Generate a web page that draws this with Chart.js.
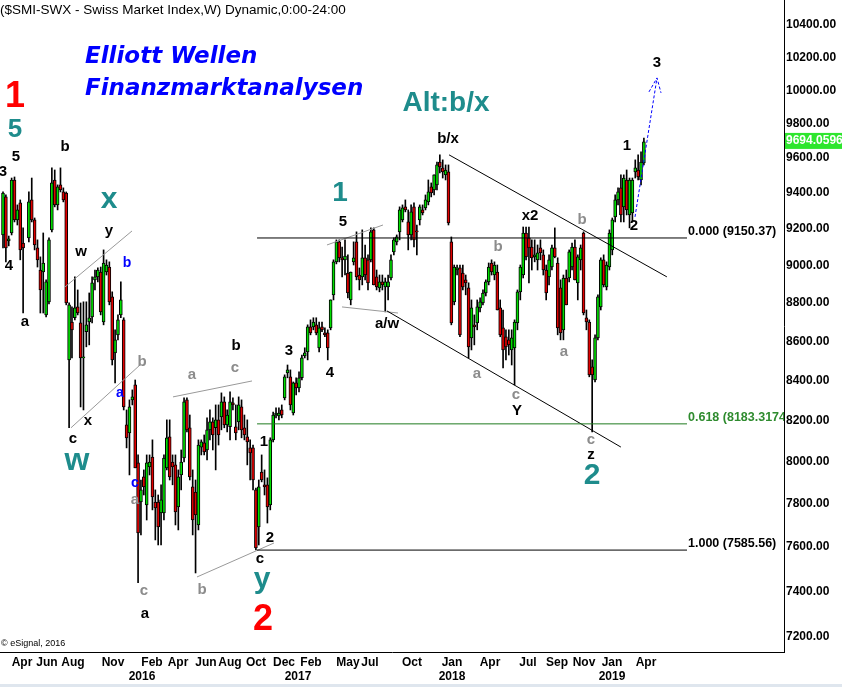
<!DOCTYPE html>
<html lang="de">
<head>
<meta charset="UTF-8">
<title>SMI - Elliott Wellen</title>
<script src="https://cdn.jsdelivr.net/npm/chart.js"></script>
<style>
  html, body { margin: 0; padding: 0; background: #ffffff; }
  #wrap { width: 842px; height: 687px; position: relative; }
</style>
</head>
<body>
<div id="wrap"><canvas id="smiChart" width="842" height="687"></canvas></div>
<script>
// weekly candles, index 0 = first week shown (null = no bar visible)
const opens = [
  9167, 9379, 9134, 9178, 9475, 9250, 9345, 9123, null, 9151,
  9362, 9250, 9096, 8976, 8965, 8737, 8806, 9195, 9475, 9334,
  9447, 9407, 9401, 8504, 8700, 8722, 8779, 8695, 8514, 8649,
  8700, 8727, 8923, 8939, 8965, 8700, 8965, 8992, 8832, 8540,
  8633, 8737, 8711, 8178, 8139, 8302, 8377, 7994, 7808, 7927,
  7794, 7974, 8022, 7808, 7808, 7757, 7757, 7970, 8120, 7998,
  7984, 7785, 7936, 8017, 8302, 8164, 7879, 7855, 7701, 8070,
  8090, 8056, 8154, 8193, 8164, 8203, 8218, 8292, 8178, 8169,
  8287, 8169, 8193, 8267, 8164, 8120, 8066, 8066, 7865, 7692,
  7950, 7889, 7889, 7794, 8105, 8227, 8223, 8252, 8312, 8438,
  8418, 8237, 8387, 8362, 8413, 8524, 8545, 8674, 8674, 8685,
  8566, 8674, 8643, 8643, 8669, 8843, 9020, 9129, 9042, 9031,
  8960, 8816, 9020, 9129, 8949, 8939, 9042, 9031, 9031, 9195,
  8939, 8880, 8912, 8885, 8885, 8933, 9074, 9129, 9184, 9250,
  9323, 9239, 9167, 9323, 9189, 9250, 9306, 9317, 9351, 9436,
  9419, 9447, 9578, 9544, 9504, 9521, 9129, 8806, 8976, 8987,
  8960, 8923, 8880, 8617, 8685, 8695, 8774, 8800, 8853, 8912,
  9014, 8949, 8965, 8774, 8669, 8623, 8607, 8555, 8566, 8695,
  8859, 8949, 9178, 9151, 9101, 9047, 9031, 9096, 9058, 8976,
  8939, 8992, 9096, 9014, 8880, 8659, 8933, 8933, 8992, 9101,
  8907, 9031, 9178, 8722, 8700, 8468, 8402, 8617, 8779, 9031,
  8885, 8992, 9085, 9267, 9362, 9430, 9323, 9475, 9278, 9289,
  9521, 9532, 9475, 9572
];
const highs = [
  9407, 9390, 9161, 9486, 9492, 9334, 9362, 9206, null, 9407,
  9486, 9261, 9140, 9047, 9178, 8923, 9151, 9544, 9532, 9447,
  9544, 9430, 9407, 8800, 8779, 8939, 8869, 8800, 8806, 8806,
  8853, 8939, 8976, 8987, 8992, 9085, 9031, 9020, 8859, 8659,
  8737, 8912, 8722, 8252, 8302, 8352, 8402, 8032, 7912, 7960,
  8032, 8032, 8105, 7865, 7841, 7889, 8032, 8203, 8203, 8032,
  8032, 7960, 8056, 8312, 8312, 8227, 7960, 7912, 8105, 8105,
  8129, 8213, 8252, 8213, 8277, 8277, 8337, 8317, 8252, 8342,
  8312, 8277, 8317, 8302, 8227, 8203, 8105, 8080, 7874, 7912,
  8032, 7960, 7922, 8115, 8242, 8262, 8262, 8277, 8428, 8478,
  8453, 8392, 8413, 8443, 8529, 8566, 8685, 8711, 8722, 8722,
  8700, 8700, 8669, 8659, 8816, 9031, 9140, 9140, 9101, 9140,
  9058, 8965, 9129, 9184, 8987, 9195, 9112, 9058, 9206, 9206,
  8976, 8949, 8949, 8933, 8949, 9058, 9151, 9167, 9323, 9334,
  9362, 9306, 9334, 9345, 9222, 9334, 9334, 9390, 9475, 9458,
  9504, 9578, 9619, 9590, 9561, 9561, 9156, 9003, 9003, 9003,
  9003, 8949, 8907, 8816, 8737, 8816, 8827, 8869, 8923, 9014,
  9031, 9020, 9003, 8816, 8763, 8659, 8659, 8659, 8711, 8869,
  9003, 9211, 9211, 9211, 9140, 9140, 9112, 9140, 9085, 9003,
  9058, 9112, 9206, 9042, 8923, 8949, 8976, 9085, 9123, 9140,
  9058, 9112, 9184, 8763, 8711, 8504, 8633, 8843, 9042, 9058,
  9020, 9195, 9261, 9390, 9430, 9504, 9504, 9532, 9486, 9486,
  9590, 9619, 9636, 9717
];
const lows = [
  9096, 9020, 9107, 9167, 9239, 9222, 9031, 8747, null, 9129,
  9239, 9085, 8992, 8747, 8747, 8727, 8795, 9184, 9323, 9306,
  9407, 9351, 8790, 8164, 8514, 8711, 8737, 8267, 8252, 8571,
  8581, 8695, 8869, 8912, 8737, 8685, 8949, 8790, 8478, 8387,
  8607, 8722, 8252, 8066, 7936, 8277, 7970, 7438, 7655, 7841,
  7724, 7936, 7771, 7632, 7609, 7609, 7724, 7960, 7912, 7889,
  7701, 7678, 7865, 7998, 8144, 7912, 7655, 7482, 7678, 8032,
  8032, 8008, 8105, 8056, 7960, 8080, 8154, 8164, 8144, 8105,
  8252, 8105, 8154, 8115, 8105, 7984, 7912, 7865, 7586, 7609,
  7903, 7841, 7710, 7771, 8095, 8213, 8203, 8213, 8302, 8413,
  8252, 8227, 8327, 8342, 8402, 8514, 8504, 8633, 8659, 8633,
  8545, 8649, 8623, 8504, 8659, 8816, 9009, 9020, 8939, 8949,
  8827, 8790, 9003, 8923, 8869, 8896, 8923, 8869, 9020, 8896,
  8869, 8859, 8869, 8753, 8816, 8923, 9058, 9112, 9140, 9239,
  9295, 9085, 9140, 9101, 9058, 9222, 9278, 9306, 9334, 9379,
  9390, 9419, 9515, 9486, 9475, 9222, 8685, 8790, 8949, 8623,
  8869, 8843, 8514, 8555, 8581, 8659, 8753, 8790, 8837, 8896,
  8949, 8923, 8763, 8623, 8463, 8504, 8529, 8478, 8377, 8659,
  8816, 8933, 9031, 8907, 8976, 9020, 8976, 9031, 8949, 8816,
  8896, 8976, 9042, 8633, 8607, 8607, 8790, 8912, 8976, 8923,
  8816, 8976, 8737, 8659, 8418, 8144, 8392, 8607, 8763, 8885,
  8869, 8976, 9058, 9239, 9334, 9239, 9239, 9278, 9206, 9239,
  9486, 9475, 9447, 9561
];
const closes = [
  9401, 9096, 9145, 9475, 9250, 9306, 9085, 9096, null, 9351,
  9250, 9112, 9031, 8869, 9014, 8912, 9140, 9458, 9334, 9436,
  9419, 9362, 8800, 8790, 8659, 8774, 8747, 8514, 8519, 8685,
  8722, 8907, 8939, 8976, 8753, 9014, 9003, 8806, 8504, 8607,
  8711, 8816, 8267, 8115, 8267, 8317, 7970, 7664, 7865, 7879,
  7994, 7998, 7832, 7780, 7692, 7818, 8017, 8115, 7927, 7974,
  7762, 7927, 7998, 8292, 8154, 7927, 7724, 7748, 8080, 8095,
  8046, 8154, 8193, 8129, 8203, 8129, 8292, 8178, 8227, 8292,
  8277, 8139, 8277, 8154, 8129, 8095, 8042, 7912, 7595, 7879,
  7912, 7879, 7785, 8105, 8227, 8237, 8237, 8227, 8418, 8453,
  8277, 8387, 8362, 8413, 8514, 8540, 8674, 8643, 8700, 8643,
  8669, 8659, 8633, 8566, 8816, 9020, 9129, 9042, 9031, 9052,
  8853, 8965, 9042, 8939, 8923, 9042, 8949, 8907, 9184, 8896,
  8885, 8912, 8896, 8912, 8912, 9031, 9140, 9156, 9306, 9317,
  9306, 9167, 9295, 9140, 9184, 9323, 9289, 9362, 9407, 9401,
  9504, 9561, 9550, 9521, 9532, 9233, 8695, 8992, 8987, 8633,
  8885, 8907, 8571, 8774, 8674, 8779, 8806, 8853, 8912, 8992,
  8965, 9003, 8763, 8633, 8555, 8571, 8581, 8617, 8700, 8859,
  8992, 9178, 9047, 9096, 9042, 9058, 9069, 9069, 8976, 8853,
  9031, 9096, 9047, 8669, 8643, 8933, 8790, 9074, 9101, 8923,
  9047, 9096, 8747, 8700, 8428, 8428, 8617, 8832, 9031, 8896,
  9003, 9178, 9250, 9362, 9407, 9278, 9486, 9306, 9475, 9475,
  9544, 9492, 9578, 9694.06
];
const lastPrice = 9694.0596;

const yTicks = [7200, 7400, 7600, 7800, 8000, 8200, 8400, 8600, 8800, 9000,
                9200, 9400, 9600, 9800, 10000, 10200, 10400];

// month ticks (in week index units) and their labels
const monthPos = [6.61, 15.31, 24.36, 38.27, 48.37, 51.84, 60.89, 70.63, 78.98, 88.03,
                  97.77, 102.64, 107.17, 120.04, 127.70, 142.31, 156.23, 169.45, 182.67,
                  192.76, 202.16, 211.90, 223.73];
const monthText = ['Apr', 'Jun', 'Aug', 'Nov', ['', '2016'], 'Feb', 'Apr', 'Jun', 'Aug', 'Oct',
                   'Dec', ['', '2017'], 'Feb', 'May', 'Jul', 'Oct', ['Jan', '2018'], 'Apr', 'Jul',
                   'Sep', 'Nov', ['Jan', '2019'], 'Apr'];

// fibonacci levels
const fibLevels = [9150.37, 8183.3174, 7585.56];
const fibText = ['0.000 (9150.37)', '0.618 (8183.3174)', '1.000 (7585.56)'];
const fibFrom = 88.4, fibTo = 238.0;

// trend lines [week index, price]
const channelTop = [[155.2, 9619], [231.0, 8939]];
const channelLow = [[133.6, 8758], [215.0, 8070]];
const grayLines = [
  [[21.57, 8885], [44.89, 9189]],
  [[23.66, 8164], [47.67, 8478]],
  [[59.15, 8317], [86.64, 8397]],
  [[67.50, 7464], [94.29, 7618]],
  [[112.73, 9112], [132.22, 9222]],
  [[117.95, 8779], [137.44, 8747]]
];
const arrowLine = [[219.9, 9267], [227.56, 10074]];
const arrowHead = [[224.77, 9990], [227.56, 10074], [228.96, 9984]];

// wave counts [text, week index, price, style]
const waveLabels = [
  ['3', 0, 9521, 'k'], ['5', 4.52, 9607, 'k'], ['4', 2.09, 8998, 'k'], ['a', 7.65, 8700, 'k'],
  ['b', 21.57, 9665, 'k'], ['w', 27.14, 9074, 'k'], ['y', 36.88, 9189, 'k'], ['x', 29.58, 8198, 'k'],
  ['c', 24.36, 8110, 'k'], ['a', 49.41, 7300, 'k'], ['b', 81.07, 8576, 'k'], ['c', 89.42, 7546, 'k'],
  ['1', 90.81, 8095, 'k'], ['2', 92.90, 7641, 'k'], ['3', 99.51, 8550, 'k'], ['4', 113.78, 8438, 'k'],
  ['5', 118.30, 9239, 'k'], ['a/w', 133.61, 8690, 'k'], ['b/x', 154.84, 9711, 'k'], ['x2', 183.37, 9272, 'k'],
  ['Y', 178.84, 8247, 'k'], ['z', 204.59, 8032, 'k'], ['1', 217.12, 9671, 'k'], ['2', 219.55, 9217, 'k'],
  ['3', 227.56, 10165, 'k'],
  ['b', 48.37, 8493, 'g'], ['a', 45.93, 7818, 'g'], ['c', 49.06, 7401, 'g'], ['a', 65.76, 8428, 'g'],
  ['c', 80.72, 8463, 'g'], ['b', 69.24, 7406, 'g'], ['b', 172.23, 9101, 'g'], ['a', 164.93, 8433, 'g'],
  ['c', 178.50, 8327, 'g'], ['b', 201.46, 9250, 'g'], ['a', 195.20, 8545, 'g'], ['c', 204.59, 8105, 'g'],
  ['b', 43.15, 9014, 'b'], ['a', 40.71, 8337, 'b'], ['c', 45.93, 7898, 'b'],
  ['5', 4.18, 9764, 't26'], ['x', 36.88, 9362, 't30'], ['w', 25.75, 8003, 't32'], ['y', 90.12, 7451, 't30'],
  ['1', 117.26, 9401, 't28'], ['2', 204.94, 7931, 't30'], ['Alt:b/x', 154.14, 9924, 't28'],
  ['1', 4.18, 9960, 'r'], ['2', 90.47, 7274, 'r']
];

const ARIAL = '"Liberation Sans", Arial, sans-serif';
const TEAL = '#1e8c8c';
const labelStyles = {
  k:   { color: '#000000', font: 'bold 15px ' + ARIAL },
  g:   { color: '#8c8c8c', font: 'bold 15px ' + ARIAL },
  b:   { color: '#0000ff', font: 'bold 14px ' + ARIAL },
  t26: { color: TEAL, font: 'bold 26px ' + ARIAL },
  t28: { color: TEAL, font: 'bold 28px ' + ARIAL },
  t30: { color: TEAL, font: 'bold 30px ' + ARIAL },
  t32: { color: TEAL, font: 'bold 32px ' + ARIAL },
  r:   { color: '#ff0000', font: 'bold 36px ' + ARIAL }
};

const weeks = opens.map((o, i) => i).filter(i => opens[i] !== null);
const bodyData = weeks.map(i => ({ x: i, y: [opens[i], closes[i]] }));
const wickData = weeks.map(i => ({ x: i, y: [lows[i], highs[i]] }));
const bodyColors = weeks.map(i => closes[i] >= opens[i] ? '#00dd00' : '#e00000');

function line(pts, color, dash) {
  return {
    type: 'line',
    data: pts.map(p => ({ x: p[0], y: p[1] })),
    borderColor: color,
    borderWidth: 1,
    borderDash: dash || [],
    pointRadius: 0,
    fill: false,
    tension: 0,
    order: 0
  };
}

const lineSets = [
  line([[fibFrom, fibLevels[0]], [fibTo, fibLevels[0]]], '#000000'),
  line([[fibFrom, fibLevels[1]], [fibTo, fibLevels[1]]], '#1f7a1f'),
  line([[fibFrom, fibLevels[2]], [fibTo, fibLevels[2]]], '#000000'),
  line(channelTop, '#000000'),
  line(channelLow, '#000000'),
  ...grayLines.map(g => line(g, '#999999')),
  line(arrowLine, '#0000ff', [3, 2]),
  line(arrowHead, '#0000ff', [3, 2])
];

const chartText = {
  id: 'chartText',
  afterDatasetsDraw(chart) {
    const { ctx, chartArea, scales: { x, y } } = chart;
    ctx.save();
    ctx.beginPath();
    ctx.rect(chartArea.left, chartArea.top, chartArea.width, chartArea.height);
    ctx.clip();

    // fib level texts
    ctx.textAlign = 'left';
    ctx.textBaseline = 'bottom';
    ctx.font = 'bold 12.5px ' + ARIAL;
    fibLevels.forEach((lv, k) => {
      ctx.fillStyle = k === 1 ? '#2e8b2e' : '#000000';
      ctx.fillText(fibText[k], x.getPixelForValue(238.35), y.getPixelForValue(lv));
    });

    // wave counts
    ctx.textAlign = 'center';
    ctx.textBaseline = 'middle';
    waveLabels.forEach(([t, i, p, s]) => {
      const st = labelStyles[s];
      ctx.font = st.font;
      ctx.fillStyle = st.color;
      ctx.fillText(t, x.getPixelForValue(i), y.getPixelForValue(p));
    });

    // header
    ctx.textAlign = 'left';
    ctx.fillStyle = '#000000';
    ctx.font = '13.5px ' + ARIAL;
    ctx.fillText('($SMI-SWX - Swiss Market Index,W) Dynamic,0:00-24:00', 0, 10);
    ctx.fillStyle = '#0000ff';
    ctx.font = 'italic bold 23px "DejaVu Sans", sans-serif';
    ctx.fillText('Elliott Wellen', 85, 57);
    ctx.fillText('Finanzmarktanalysen', 85, 89);
    ctx.fillStyle = '#000000';
    ctx.font = '9px ' + ARIAL;
    ctx.fillText('\u00A9 eSignal, 2016', 1, 644);
    ctx.restore();
  },
  afterDraw(chart) {
    const { ctx, chartArea, scales: { y } } = chart;
    const py = y.getPixelForValue(lastPrice);
    ctx.save();
    ctx.fillStyle = '#2ee62e';
    ctx.fillRect(chartArea.right + 1, py - 9, 60, 16);
    ctx.fillStyle = '#ffffff';
    ctx.font = 'bold 12px ' + ARIAL;
    ctx.textAlign = 'left';
    ctx.textBaseline = 'middle';
    ctx.fillText(lastPrice.toFixed(4), chartArea.right + 2, py - 1);
    ctx.fillStyle = '#dfe6ee';
    ctx.fillRect(0, chart.height - 3, chart.width, 3);
    ctx.restore();
  }
};

new Chart(document.getElementById('smiChart'), {
  type: 'bar',
  data: {
    datasets: [
      ...lineSets,
      {
        label: 'body',
        data: bodyData,
        backgroundColor: bodyColors,
        borderColor: '#000000',
        borderWidth: 1,
        borderSkipped: false,
        barThickness: 3,
        minBarLength: 1,
        grouped: false,
        order: 1
      },
      {
        label: 'wick',
        data: wickData,
        backgroundColor: '#000000',
        borderWidth: 0,
        barThickness: 1,
        grouped: false,
        order: 2
      }
    ]
  },
  options: {
    responsive: false,
    animation: false,
    devicePixelRatio: 1,
    layout: { padding: 0 },
    plugins: { legend: { display: false }, tooltip: { enabled: false } },
    scales: {
      x: {
        type: 'linear',
        bounds: 'data',
        offset: false,
        min: -1.044,
        max: 271.75,
        grid: { display: false, drawTicks: false },
        border: { display: true, color: '#000000', width: 1 },
        ticks: {
          autoSkip: false, maxRotation: 0, minRotation: 0, padding: 3,
          color: '#000000',
          font: { family: ARIAL, size: 12, weight: 'bold', lineHeight: 1.2 },
          callback: (v, i) => monthText[i]
        },
        afterBuildTicks: s => { s.ticks = monthPos.map(v => ({ value: v })); },
        afterFit: s => { s.height = 35; s.paddingLeft = 0; s.paddingRight = 0; }
      },
      y: {
        type: 'logarithmic',
        position: 'right',
        bounds: 'data',
        beginAtZero: false,
        min: 7135,
        max: 10557,
        grid: { display: false, drawTicks: false },
        border: { display: true, color: '#000000', width: 1 },
        ticks: {
          autoSkip: false, padding: 2, color: '#000000',
          font: { family: ARIAL, size: 12, weight: 'bold' },
          callback: v => Number(v).toFixed(2)
        },
        afterBuildTicks: s => { s.ticks = yTicks.map(v => ({ value: v })); },
        afterFit: s => { s.width = 58; s.paddingTop = 0; s.paddingBottom = 0; }
      }
    }
  },
  plugins: [chartText]
});
</script>
</body>
</html>
